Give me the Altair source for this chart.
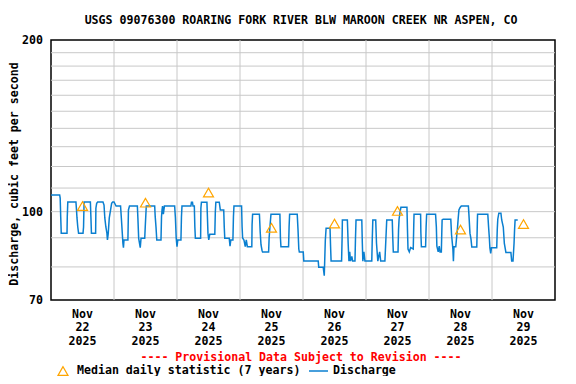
import altair as alt
import pandas as pd

# ---- data (hours since 2025-11-22 00:00, discharge in cfs) ----
hours = [
    0, 3.3, 3.5, 3.7, 3.9, 6.1, 6.2, 6.4, 9.5, 9.7, 9.9, 10.2, 10.5, 12.2, 12.4, 12.6,
    15.0, 15.2, 15.4, 17.0, 17.1, 17.4, 17.8, 19.8, 20.2, 20.5, 20.9, 21.3, 21.5, 21.8,
    22.2, 22.7, 23.1, 23.5, 24.0, 24.8, 26.5, 26.6, 26.8, 27.2, 27.4, 27.6, 27.8, 29.3,
    29.5, 29.9, 32.9, 33.1, 33.4, 34.0, 34.3, 35.7, 35.9, 36.3, 39.5, 39.7, 40.0, 40.3,
    41.9, 42.1, 42.3, 42.5, 42.8, 43.2, 47.1, 47.4, 47.7, 48.0, 48.3, 49.5, 49.7, 49.9,
    53.3, 53.5, 53.9, 54.1, 54.6, 54.8, 55.0, 57.0, 57.1, 57.3, 59.4, 59.8, 60.1, 60.5,
    62.4, 62.6, 62.8, 64.1, 64.5, 65.8, 66.0, 66.2, 67.9, 68.2, 68.5, 69.3, 69.5, 69.7,
    72.6, 72.8, 73.0, 73.5, 74.0, 74.4, 74.8, 76.5, 76.6, 76.8, 79.4, 79.7, 80.0, 80.4,
    80.6, 82.9, 83.1, 83.4, 83.8, 87.2, 87.4, 87.6, 90.5, 90.7, 90.9, 93.8, 94.1, 94.4,
    94.6, 96.1, 96.3, 101.8, 102.0, 103.7, 104.1, 104.5, 104.8, 106.3, 106.5, 106.7,
    110.7, 110.9, 111.0, 112.9, 113.2, 113.5, 113.8, 114.1, 114.6, 114.9, 115.8, 116.0,
    116.2, 118.4, 118.6, 118.8, 119.2, 119.6, 122.2, 122.4, 122.6, 123.7, 124.0, 124.2,
    124.5, 125.2, 125.6, 127.2, 127.6, 127.9, 130.0, 130.2, 130.4, 132.2, 132.4, 132.6,
    133.0, 133.3, 135.6, 135.8, 136.0, 136.5, 137.0, 138.0, 138.2, 138.3, 140.8, 140.9,
    141.1, 142.7, 142.9, 143.1, 146.5, 146.8, 147.0, 147.5, 147.9, 148.2, 148.7, 148.9,
    149.0, 149.4, 152.3, 152.6, 153.1, 153.3, 153.5, 154.2, 154.5, 154.8, 155.1, 155.4,
    155.8, 156.3, 159.0, 159.2, 159.6, 160.0, 160.3, 162.2, 162.4, 162.5, 166.4, 166.7,
    167.0, 167.2, 167.5, 167.8, 169.8, 170.0, 170.2, 170.6, 171.4, 171.7, 172.3, 172.7,
    173.3, 175.2, 175.5, 176.0, 176.4, 176.6, 176.8, 177.8,
]
discharge = [
    107, 107, 105.6, 98, 91.7, 91.7, 98, 104, 104, 101, 97.5, 94, 91.7, 91.7, 94, 104,
    104, 98, 91.7, 91.7, 101.4, 103.4, 104, 104, 102.7, 97.5, 94, 91.7, 89.2, 91.5,
    97.5, 100.7, 103.4, 104, 104, 102.3, 102.3, 100.7, 97.5, 91, 88, 86.5, 89.2, 89.2,
    100.7, 102.3, 102.3, 97.5, 89.8, 86.5, 89.8, 89.8, 94, 102.3, 102.3, 98, 94, 89.2,
    89.2, 98, 100.7, 102.3, 99, 102.3, 102.3, 97.5, 89.8, 86.8, 89.2, 89.2, 98, 102.3,
    102.3, 103.9, 103.9, 102.3, 102.3, 94, 89.8, 89.8, 101.4, 103.9, 103.9, 91.7, 89.2, 91.3,
    91.3, 100, 103.9, 103.9, 100.7, 100.7, 94, 89.8, 89.8, 87, 89.2, 89.2, 98, 102.3,
    102.3, 94, 89.9, 89.2, 86.8, 89.2, 86.8, 86.8, 94.8, 99, 99, 92, 87.5, 85.5,
    85, 85, 90, 94, 99, 99, 90, 86.8, 86.8, 94, 99, 99, 93, 86,
    85, 85, 81.9, 81.9, 79.9, 79.9, 77.2, 89, 93.5, 93.5, 87, 81.9,
    81.9, 90, 96.7, 96.7, 88, 81.9, 85, 81.9, 83.5, 81.9, 81.9, 90,
    96.7, 96.7, 88, 81.9, 85, 81.9, 81.9, 90, 96.7, 96.7, 88, 85.5,
    81.9, 85, 81.9, 81.9, 90, 96.7, 96.7, 90, 85, 85, 93, 97,
    100, 101.8, 101.8, 93, 86, 85, 86.5, 86, 95, 99, 99, 92,
    86.8, 86.8, 94, 99, 99, 94, 87, 85, 87, 85, 85, 93,
    96.7, 97, 97, 91, 86, 81.9, 86.8, 86.8, 90, 93, 97, 100.7,
    101.6, 102.3, 102.3, 99, 91.7, 89.5, 86.7, 86.7, 95, 99, 99, 94,
    89.8, 86.4, 84.5, 86.4, 86.4, 93, 97, 99.4, 99.4, 96.7, 94, 88,
    84.8, 84.8, 81.9, 81.9, 88, 93, 96.7, 96.7,
]
day_hours = [12, 36, 60, 84, 108, 132, 156, 180]
median_cfs = [102.3, 103.7, 108.0, 93.7, 95.3, 100.3, 93.0, 95.1]
day_labels = ["Nov\n22\n2025", "Nov\n23\n2025", "Nov\n24\n2025", "Nov\n25\n2025",
              "Nov\n26\n2025", "Nov\n27\n2025", "Nov\n28\n2025", "Nov\n29\n2025"]
grid_hours = [24, 48, 72, 96, 120, 144, 168]
grid_cfs = [80, 90, 100, 110, 120, 130, 140, 150, 160, 170, 180, 190]
y_label_values = [70, 100, 200]

title_text = "USGS 09076300 ROARING FORK RIVER BLW MAROON CREEK NR ASPEN, CO"
ytitle_text = "Discharge, cubic feet per second"
prov_text = "---- Provisional Data Subject to Revision ----"
median_text = "Median daily statistic (7 years)"
discharge_text = "Discharge"

FONT = "DejaVu Sans Mono"
FS = 11.6
BLUE = "#0a7fd0"
ORANGE = "#FFA500"
GRID = "#c8c8c8"

xs = alt.Scale(domain=[0, 192], nice=False, zero=False)
ys = alt.Scale(type="log", domain=[70, 200], nice=False)

flow = pd.DataFrame({"h": hours, "q": discharge})
med = pd.DataFrame({"h": day_hours, "q": median_cfs, "label": day_labels})

vgrid = alt.Chart(pd.DataFrame({"h": grid_hours})).mark_rule(
    color=GRID, strokeWidth=1).encode(x=alt.X("h:Q", scale=xs, axis=None))

hgrid = alt.Chart(pd.DataFrame({"v": grid_cfs})).mark_rule(
    color=GRID, strokeWidth=1).encode(y=alt.Y("v:Q", scale=ys, axis=None))

ylabels = alt.Chart(pd.DataFrame({"v": y_label_values})).mark_text(
    align="right", baseline="middle", font=FONT, fontSize=FS, fontWeight="bold",
    color="black", dy=1).encode(
    y=alt.Y("v:Q", scale=ys, axis=None), x=alt.value(-8), text=alt.Text("v:Q", format="d"))

line = alt.Chart(flow).mark_line(color=BLUE, strokeWidth=1.5).encode(
    x=alt.X("h:Q", scale=xs, axis=None),
    y=alt.Y("q:Q", scale=ys, axis=None),
    order="h:Q",
)

tri = alt.Chart(med).mark_point(shape="triangle-up", filled=False, color=ORANGE,
                                 size=100, strokeWidth=1.2, opacity=1).encode(
    x=alt.X("h:Q", scale=xs, axis=None),
    y=alt.Y("q:Q", scale=ys, axis=None),
)

xlabels = alt.Chart(med).mark_text(
    lineBreak="\n", lineHeight=13.75, baseline="top", align="center",
    font=FONT, fontSize=FS, fontWeight="bold", color="black").encode(
    x=alt.X("h:Q", scale=xs, axis=None), y=alt.value(268.5), text="label:N")

def label(txt, x, y, **kw):
    return alt.Chart(pd.DataFrame({"t": [txt]})).mark_text(
        font=FONT, fontSize=FS, fontWeight="bold", baseline="middle", **kw).encode(
        x=alt.value(x), y=alt.value(y), text="t:N")

title = label(title_text, 250, -19.5, align="center", color="black")
ytitle = label(ytitle_text, -36, 134, align="center", angle=270, color="black")
prov = label(prov_text, 250, 317.5, align="center", color="red")
leg_med = label(median_text, 26, 331, align="left", color="black")
leg_dis = label(discharge_text, 282, 331, align="left", color="black")

leg_tri = alt.Chart(pd.DataFrame({"a": [0]})).mark_point(
    shape="triangle-up", filled=False, color=ORANGE, size=100, strokeWidth=1.2,
    opacity=1).encode(x=alt.value(12), y=alt.value(331))
leg_line = alt.Chart(pd.DataFrame({"a": [0]})).mark_rule(
    color=BLUE, strokeWidth=1.5).encode(x=alt.value(258), x2=alt.value(277),
                                        y=alt.value(331))

chart = alt.layer(
    vgrid, hgrid, line, tri, ylabels, xlabels, title, ytitle, prov, leg_tri, leg_med,
    leg_line, leg_dis
).properties(
    width=504, height=260,
    autosize=alt.AutoSizeParams(type="none"),
    padding={"left": 43, "top": 32, "right": 13, "bottom": 76},
).configure_view(stroke="black", strokeWidth=1.5)

chart.save("out.html", embed_options={"renderer": "svg", "actions": False})
